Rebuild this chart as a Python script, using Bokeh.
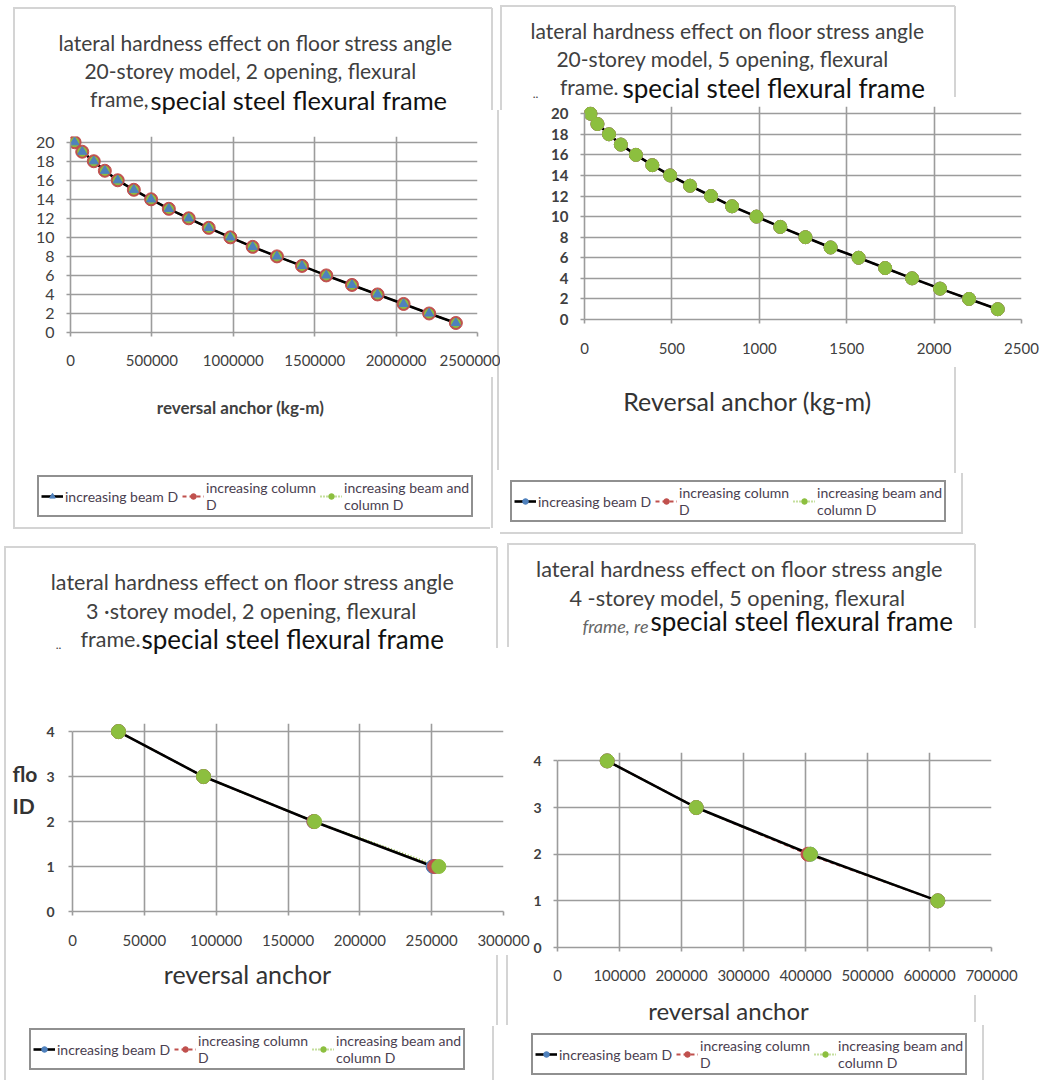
from bokeh.plotting import figure
from bokeh.layouts import column, row
from bokeh.models import (Label, Legend, LegendItem, FixedTicker,
                          NumeralTickFormatter, Range1d)
from bokeh.embed import file_html
from bokeh.resources import INLINE

FONT = "Lato"
GRID = "#9c9c9c"
TXT = "#404040"
BLUE = "#4f81bd"
RED = "#c0504d"
GREEN = "#8cbf3f"
BORDER = "#d4d4d4"

legend_labels = ["increasing beam D", "increasing column\nD", "increasing beam and\ncolumn D"]

# ---------------- panel 1: 20-storey model, 2 opening ----------------
p1_floor = [20, 19, 18, 17, 16, 15, 14, 13, 12, 11, 10, 9, 8, 7, 6, 5, 4, 3, 2, 1]
p1_beam_d = [25000, 72000, 143000, 211000, 290000, 389000, 495000, 604000, 726000, 849000,
             982000, 1119000, 1268000, 1422000, 1571000, 1729000, 1886000, 2046000, 2203000, 2367000]
p1_column_d = [25000, 72000, 143000, 211000, 290000, 389000, 495000, 604000, 726000, 849000,
               982000, 1119000, 1268000, 1422000, 1571000, 1729000, 1886000, 2046000, 2203000, 2367000]
p1_beam_column_d = [25000, 72000, 143000, 211000, 290000, 389000, 495000, 604000, 726000, 849000,
                    982000, 1119000, 1268000, 1422000, 1571000, 1729000, 1886000, 2046000, 2203000, 2367000]
p1_xticks = [0, 500000, 1000000, 1500000, 2000000, 2500000]
p1_yticks = [0, 2, 4, 6, 8, 10, 12, 14, 16, 18, 20]
p1_title = ["lateral hardness effect on floor stress angle",
            "20-storey model, 2 opening, flexural", "frame,", "special steel flexural frame"]
p1_xlabel = "reversal anchor (kg-m)"

# ---------------- panel 2: 20-storey model, 5 opening ----------------
p2_floor = [20, 19, 18, 17, 16, 15, 14, 13, 12, 11, 10, 9, 8, 7, 6, 5, 4, 3, 2, 1]
p2_beam_d = [34, 74, 140, 208, 294, 388, 490, 604, 724, 844,
             984, 1120, 1264, 1408, 1568, 1720, 1874, 2034, 2200, 2364]
p2_column_d = [34, 74, 140, 208, 294, 388, 490, 604, 724, 844,
               984, 1120, 1264, 1408, 1568, 1720, 1874, 2034, 2200, 2364]
p2_beam_column_d = [34, 74, 140, 208, 294, 388, 490, 604, 724, 844,
                    984, 1120, 1264, 1408, 1568, 1720, 1874, 2034, 2200, 2364]
p2_xticks = [0, 500, 1000, 1500, 2000, 2500]
p2_yticks = [0, 2, 4, 6, 8, 10, 12, 14, 16, 18, 20]
p2_title = ["lateral hardness effect on floor stress angle",
            "20-storey model, 5 opening, flexural", "frame.", "special steel flexural frame"]
p2_xlabel = "Reversal anchor (kg-m)"

# ---------------- panel 3: 3-storey model, 2 opening ----------------
p3_floor = [4, 3, 2, 1]
p3_beam_d = [32000, 91200, 168000, 251000]
p3_column_d = [32000, 91200, 168000, 252000]
p3_beam_column_d = [32000, 91200, 168500, 255000]
p3_xticks = [0, 50000, 100000, 150000, 200000, 250000, 300000]
p3_yticks = [0, 1, 2, 3, 4]
p3_title = ["lateral hardness effect on floor stress angle",
            "3 \u00b7storey model, 2 opening, flexural", "frame.", "special steel flexural frame"]
p3_xlabel = "reversal anchor"
p3_ylabel = ["flo", "ID"]

# ---------------- panel 4: 4-storey model, 5 opening ----------------
p4_floor = [4, 3, 2, 1]
p4_beam_d = [80100, 223700, 408000, 613400]
p4_column_d = [80100, 223700, 404000, 613400]
p4_beam_column_d = [80100, 223700, 408000, 613400]
p4_xticks = [0, 100000, 200000, 300000, 400000, 500000, 600000, 700000]
p4_yticks = [0, 1, 2, 3, 4]
p4_title = ["lateral hardness effect on floor stress angle",
            "4 -storey model, 5 opening, flexural", "frame, re", "special steel flexural frame"]
p4_xlabel = "reversal anchor"


def text_fig(w, h, texts, legend=None):
    """A figure whose frame fills the whole canvas, one data unit = one pixel, y downwards."""
    p = figure(width=w, height=h, x_range=Range1d(0, w), y_range=Range1d(h, 0),
               output_backend="svg", toolbar_location=None, tools="", title=None,
               x_axis_location=None, y_axis_location=None,
               min_border=0, min_border_left=0, min_border_right=0,
               min_border_top=0, min_border_bottom=0,
               outline_line_color=None, background_fill_alpha=0, border_fill_alpha=0)
    p.grid.visible = False
    for t in texts:
        text, x, y, size = t[0], t[1], t[2], t[3]
        color = t[4] if len(t) > 4 else TXT
        align = t[5] if len(t) > 5 else "center"
        style = t[6] if len(t) > 6 else "normal"
        p.add_layout(Label(x=x, y=y, text=text, text_font=FONT, text_font_size=f"{size}px",
                           text_color=color, text_align=align, text_baseline="middle",
                           text_font_style=style))
    if legend is not None:
        blue_marker, loc = legend
        # legend keys: one short segment / point each, placed off the visible canvas
        kx, ky = [-1000, -990], [-1000, -1000]
        lb = p.line(kx, ky, line_color="black", line_width=2.6)
        mb = p.scatter(kx, ky, marker=blue_marker, size=9, fill_color=BLUE, line_color=BLUE)
        lr = p.line(kx, ky, line_color=RED, line_width=2, line_dash="4 3")
        mr = p.scatter(kx, ky, marker="circle", size=9, fill_color=RED, line_color=RED)
        lg = p.line(kx, ky, line_color=GREEN, line_width=2, line_dash="1 2")
        mg = p.scatter(kx, ky, marker="circle", size=9, fill_color=GREEN, line_color=GREEN)
        items = [LegendItem(label=legend_labels[0], renderers=[lb, mb]),
                 LegendItem(label=legend_labels[1], renderers=[lr, mr]),
                 LegendItem(label=legend_labels[2], renderers=[lg, mg])]
        leg = Legend(items=items, location=loc, orientation="horizontal",
                     label_text_font=FONT, label_text_font_size="14px", label_text_color="#4a4050",
                     label_text_line_height=1.0,
                     glyph_width=22, glyph_height=14, label_standoff=2, spacing=4,
                     padding=2, margin=0, label_height=14,
                     border_line_color="#222222", border_line_width=2.5,
                     background_fill_alpha=0)
        p.add_layout(leg)
    return p


def chart(cfg):
    p = figure(width=cfg["w"], height=cfg["h"],
               x_range=Range1d(cfg["xr"][0], cfg["xr"][1]),
               y_range=Range1d(cfg["yr"][0], cfg["yr"][1]),
               output_backend="svg", toolbar_location=None, tools="", title=None,
               min_border_left=cfg["mb"][0], min_border_right=cfg["mb"][1],
               min_border_top=cfg["mb"][2], min_border_bottom=cfg["mb"][3],
               background_fill_color="white", border_fill_alpha=0,
               outline_line_color=None)
    xt = FixedTicker(ticks=cfg["xticks"])
    yt = FixedTicker(ticks=cfg["yticks"])
    p.xaxis.ticker = xt
    p.yaxis.ticker = yt
    p.xgrid.ticker = xt
    p.ygrid.ticker = yt
    for g in (p.xgrid[0], p.ygrid[0]):
        g.grid_line_color = GRID
        g.grid_line_width = 1.6
    for ax in (p.xaxis[0], p.yaxis[0]):
        ax.axis_line_color = GRID
        ax.axis_line_width = 1.6
        ax.major_tick_line_color = GRID
        ax.major_tick_line_width = 1.6
        ax.major_tick_in = 0
        ax.major_tick_out = 4
        ax.minor_tick_line_color = None
        ax.major_label_text_font = FONT
        ax.major_label_text_color = TXT
    p.xaxis.formatter = NumeralTickFormatter(format="0")
    p.xaxis.major_label_text_font_size = f"{cfg['xts']}px"
    p.yaxis.major_label_text_font_size = f"{cfg['yts']}px"
    p.xaxis.major_label_standoff = cfg["xstand"]
    p.yaxis.major_label_standoff = cfg["ystand"]
    p.yaxis.bounds = (cfg["yticks"][0], cfg["yticks"][-1])
    p.yaxis.major_label_text_font_style = cfg.get("ystyle", "normal")

    fl = cfg["floor"]
    p.line(cfg["column"], fl, line_color=RED, line_width=2, line_dash="4 3")
    p.line(cfg["both"], fl, line_color=GREEN, line_width=2, line_dash="1 2")
    p.line(cfg["beam"], fl, line_color="black", line_width=2.6)
    for key, marker, size, color in cfg["marks"]:
        p.scatter(cfg[key], fl, marker=marker, size=size,
                  fill_color=color, line_color=color, line_width=1)
    return p


# ---------------- quadrant 1 (x 0-500, y 0-538) ----------------
h1 = text_fig(500, 118, [(p1_title[0], 255, 42, 21), (p1_title[1], 250, 70, 21),
                         (p1_title[2], 148, 98, 21, TXT, "right"),
                         (p1_title[3], 150, 99, 25.5, "#111111", "left")])
c1 = chart(dict(
    w=500, h=270, xr=(0, 2500000), yr=(0, 20.6), mb=(70, 23, 18, 56),
    xticks=p1_xticks, yticks=p1_yticks, xts=15, yts=16, xstand=18, ystand=12,
    floor=p1_floor, beam=p1_beam_d, column=p1_column_d, both=p1_beam_column_d,
    marks=[("column", "circle", 13, RED), ("both", "circle", 9, GREEN), ("beam", "triangle", 9, BLUE)]))
f1 = text_fig(500, 150, [(p1_xlabel, 240, 19, 17, TXT, "center", "bold")],
              legend=("triangle", (37, 21)))

# ---------------- quadrant 2 (x 500-1042, y 0-538) ----------------
h2 = text_fig(542, 103, [(p2_title[0], 227, 30, 21), (p2_title[1], 222, 58, 21),
                         (p2_title[2], 118, 86, 21, TXT, "right"),
                         (p2_title[3], 122, 87, 26, "#111111", "left"),
                         ("..", 35, 93, 12)])
c2 = chart(dict(
    w=542, h=259, xr=(0, 2500), yr=(0, 20.7), mb=(84, 21, 3, 43),
    xticks=p2_xticks, yticks=p2_yticks, xts=15, yts=15, xstand=19, ystand=12, ystyle="bold",
    floor=p2_floor, beam=p2_beam_d, column=p2_column_d, both=p2_beam_column_d,
    marks=[("beam", "circle", 13, BLUE), ("column", "circle", 13, RED), ("both", "circle", 13, GREEN)]))
f2 = text_fig(542, 176, [(p2_xlabel, 247, 38, 25, "#333333")],
              legend=("circle", (10, 16)))

# ---------------- quadrant 3 (x 0-530, y 538-1080) ----------------
h3 = text_fig(530, 118, [(p3_title[0], 252, 43, 21.5), (p3_title[1], 251, 72, 21.5),
                         (p3_title[2], 140, 100, 21.5, TXT, "right"),
                         (p3_title[3], 141, 100, 26, "#111111", "left"),
                         ("..", 58, 106, 12)])
s3 = text_fig(40, 299, [(p3_ylabel[0], 12, 117, 21, "#333333", "left", "bold"),
                        (p3_ylabel[1], 12, 149, 21, "#333333", "left", "bold")])
c3 = chart(dict(
    w=490, h=299, xr=(0, 300000), yr=(0, 4.18), mb=(32, 27, 67, 44),
    xticks=p3_xticks, yticks=p3_yticks, xts=15, yts=14, xstand=19, ystand=14, ystyle="bold",
    floor=p3_floor, beam=p3_beam_d, column=p3_column_d, both=p3_beam_column_d,
    marks=[("beam", "circle", 14, BLUE), ("column", "circle", 14, RED), ("both", "circle", 14, GREEN)]))
f3 = text_fig(530, 125, [(p3_xlabel, 247, 18, 25, "#333333")],
              legend=("circle", (29, 10)))

# ---------------- quadrant 4 (x 530-1042, y 538-1080) ----------------
h4 = text_fig(512, 107, [(p4_title[0], 209, 30, 21.7), (p4_title[1], 207, 59, 21.7),
                         (p4_title[2], 118, 87, 18, "#666666", "right", "italic"),
                         (p4_title[3], 120, 82, 26, "#111111", "left")])
c4 = chart(dict(
    w=512, h=343, xr=(0, 700000), yr=(0, 4.18), mb=(27, 51, 107, 41),
    xticks=p4_xticks, yticks=p4_yticks, xts=15, yts=14, xstand=18, ystand=12, ystyle="bold",
    floor=p4_floor, beam=p4_beam_d, column=p4_column_d, both=p4_beam_column_d,
    marks=[("beam", "circle", 14, BLUE), ("column", "circle", 14, RED), ("both", "circle", 14, GREEN)]))
f4 = text_fig(512, 92, [(p4_xlabel, 198, 22, 24, "#333333")],
              legend=("circle", (1, 5)))

# panel frames (light grey lines) drawn as page background: (x, y, w, h)
segments = [(13, 8, 2, 520), (13, 7, 479, 2), (13, 527, 477, 2), (491, 8, 2, 102),
            (491, 377, 2, 151), (497, 110, 2, 360),
            (500, 6, 2, 104), (500, 5, 455, 2), (954, 6, 2, 91), (954, 367, 2, 106),
            (961, 473, 2, 60), (500, 532, 463, 2),
            (4, 547, 2, 533), (4, 546, 493, 2), (496, 547, 2, 101), (496, 955, 2, 70),
            (506, 955, 2, 70), (492, 1026, 2, 54),
            (507, 544, 2, 103), (507, 543, 468, 2), (974, 544, 2, 84), (974, 995, 2, 27),
            (982, 1025, 2, 55)]
bg = ", ".join(f"linear-gradient({BORDER},{BORDER}) {x}px {y}px / {w}px {h}px no-repeat"
               for (x, y, w, h) in segments) + ", white"

q1 = column(row(h1), row(c1), row(f1))
q2 = column(row(h2), row(c2), row(f2))
q3 = column(row(h3), row(column(s3), column(c3)), row(f3))
q4 = column(row(h4), row(c4), row(f4))
root = column(row(q1, q2), row(q3, q4), styles={"background": bg})

open("out.html", "w").write(file_html(root, INLINE))
